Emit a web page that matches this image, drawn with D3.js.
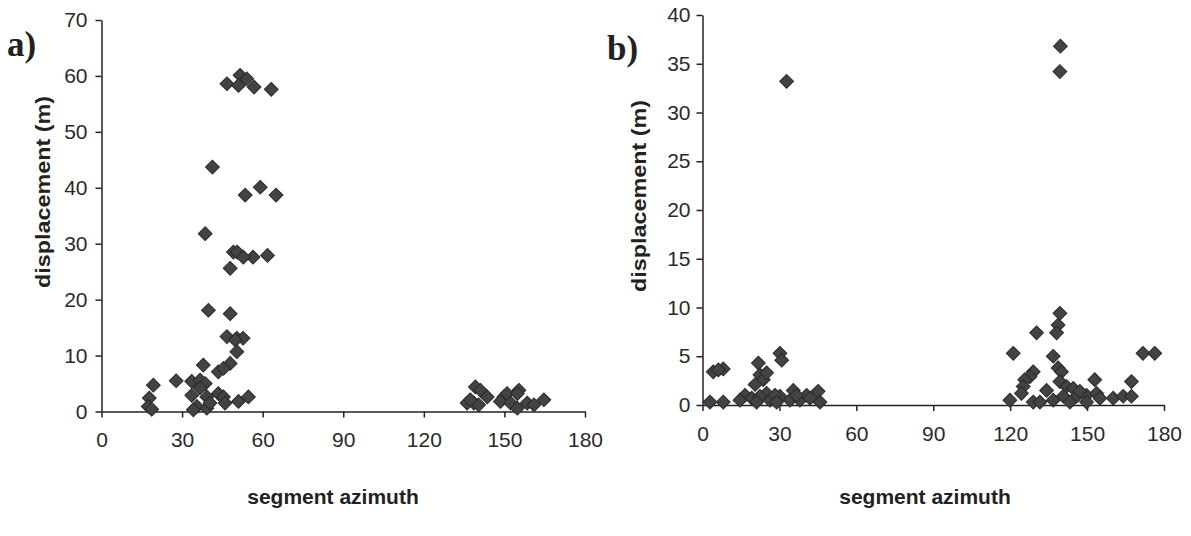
<!DOCTYPE html>
<html lang="en">
	<head>
		<meta charset="utf-8">
		<title>Displacement vs segment azimuth</title>
		<script type="text/javascript" src="https://cdn.jsdelivr.net/npm/d3@7"></script>
		<style type="text/css">
			body{
				margin: 0;
				background: #fff;
			}
			.tick text{
				font-family: "Liberation Sans", Arial, sans-serif;
				font-size: 21px;
				fill: #2a2a2a;
			}
			.axis path, .axis line{
				stroke: #222;
				stroke-width: 1.5;
			}
			.title{
				font-family: "Liberation Sans", Arial, sans-serif;
				font-weight: bold;
				font-size: 21px;
				fill: #222;
			}
			.panel{
				font-family: "Liberation Serif", "Times New Roman", serif;
				font-weight: bold;
				font-size: 35px;
				fill: #222;
			}
		</style>
	</head>
	<body>
		<script type="text/javascript">

			//Width and height
			var w = 1191;
			var h = 536;

			//Panel a) data: azimuth (deg), displacement (m)
			var azimuthA = [46.7, 51.6, 51.0, 54.1, 56.8, 63.2,
				41.3, 53.5, 59.1, 65.0,
				38.6, 49.1, 56.4, 61.8, 47.9, 50.5, 52.8,
				39.8, 47.9,
				46.7, 50.4, 52.7, 49.8, 50.4,
				37.9, 47.9, 43.5, 45.4,
				19.3, 27.8, 33.6, 36.7, 38.6, 36.7,
				17.8, 17.4, 18.7, 33.6, 39.2, 43.5, 45.4, 54.7, 51.0,
				35.5, 34.2, 39.2, 46.0, 40.4,
				139.2, 141.1, 143.6, 136.1, 138.6, 140.4, 137.3,
				149.8, 151.0, 155.4, 154.8, 148.5, 152.3, 154.8,
				158.5, 161.0, 164.7];
			var dispA = [58.6, 60.1, 58.3, 59.5, 58.0, 57.6,
				43.7, 38.7, 40.1, 38.7,
				31.8, 28.5, 27.6, 27.9, 25.6, 28.5, 27.6,
				18.1, 17.5,
				13.4, 13.1, 13.1, 12.8, 10.7,
				8.3, 8.6, 7.1, 7.7,
				4.7, 5.5, 5.4, 5.6, 5.0, 4.2,
				2.4, 0.9, 0.4, 2.9, 2.6, 3.2, 2.6, 2.6, 1.8,
				0.9, 0.3, 0.6, 1.5, 1.5,
				4.4, 3.8, 2.6, 1.5, 1.5, 1.2, 2.1,
				2.6, 3.2, 3.8, 3.2, 1.8, 1.5, 0.6,
				1.5, 1.2, 2.1];

			//Panel b) data
			var azimuthB = [32.8, 139.6, 139.4,
				2.9, 8.1, 4.2, 8.1, 6.2, 21.8, 30.2, 30.9,
				22.4, 23.7, 20.5, 25.0, 35.4, 45.1, 45.8,
				16.6, 14.6, 19.2, 25.0, 26.3, 30.2, 34.1, 38.0,
				40.6, 41.9, 22.4, 28.3, 36.7, 21.1, 28.9,
				139.4, 138.7, 138.1, 130.3, 121.2, 136.8, 138.7, 140.0,
				129.0, 127.7, 125.7, 125.1, 124.4, 134.2, 139.4, 142.0,
				144.6, 153.0, 167.3, 119.9, 129.0, 131.6, 136.8, 140.7,
				145.9, 149.8, 153.7, 155.0, 160.2, 164.1, 167.3, 149.8,
				143.3, 147.2, 171.8, 176.4];
			var dispB = [33.2, 36.8, 34.2,
				0.3, 0.3, 3.4, 3.7, 3.6, 4.3, 5.3, 4.6,
				3.1, 2.6, 2.1, 3.3, 1.5, 1.4, 0.3,
				1.0, 0.5, 0.7, 1.2, 0.5, 0.9, 0.5, 0.5,
				1.0, 0.7, 0.9, 1.0, 1.0, 0.3, 0.3,
				9.4, 8.2, 7.4, 7.4, 5.3, 5.0, 3.8, 3.4,
				3.4, 2.9, 2.6, 1.9, 1.2, 1.5, 2.4, 1.9,
				1.7, 2.6, 2.4, 0.5, 0.3, 0.3, 0.5, 0.9,
				0.9, 1.0, 1.2, 0.7, 0.7, 0.9, 0.9, 0.3,
				0.3, 1.4, 5.3, 5.3];

			var xTicks = [0, 30, 60, 90, 120, 150, 180];
			var yTicksA = [0, 10, 20, 30, 40, 50, 60, 70];
			var yTicksB = [0, 5, 10, 15, 20, 25, 30, 35, 40];

			//Create SVG element
			var svg = d3.select("body")
						.append("svg")
						.attr("width", w)
						.attr("height", h);

			var diamond = d3.symbol().type(d3.symbolSquare).size(95);

			function drawPanel(opt) {
				var x = d3.scaleLinear().domain([0, 180]).range([opt.x0, opt.x1]);
				var y = d3.scaleLinear().domain([0, opt.yMax]).range([opt.y0, opt.y1]);

				var g = svg.append("g");

				g.append("g")
				 .attr("class", "axis")
				 .attr("transform", "translate(0," + opt.y0 + ")")
				 .call(d3.axisBottom(x).tickValues(xTicks).tickSize(6).tickPadding(15).tickSizeOuter(0));

				g.append("g")
				 .attr("class", "axis")
				 .attr("transform", "translate(" + opt.x0 + ",0)")
				 .call(d3.axisLeft(y).tickValues(opt.yTicks).tickSize(6).tickPadding(opt.yPad).tickSizeOuter(0));

				g.selectAll("path.pt")
				 .data(opt.xs)
				 .enter()
				 .append("path")
				 .attr("class", "pt")
				 .attr("d", diamond)
				 .attr("transform", function(d, i) {
					 return "translate(" + x(d) + "," + y(opt.ys[i]) + ") rotate(45)";
				 })
				 .style("fill", "#434343")
				 .style("stroke", "#2a2a2a")
				 .style("stroke-width", 1);

				//Axis titles
				g.append("text")
				 .attr("class", "title")
				 .attr("transform", "translate(" + opt.yTitleX + "," + opt.yTitleY + ") rotate(-90)")
				 .attr("text-anchor", "middle")
				 .attr("textLength", 192)
				 .attr("lengthAdjust", "spacingAndGlyphs")
				 .text("displacement (m)");

				g.append("text")
				 .attr("class", "title")
				 .attr("x", opt.xTitleX)
				 .attr("y", 504)
				 .attr("text-anchor", "middle")
				 .text("segment azimuth");

				g.append("text")
				 .attr("class", "panel")
				 .attr("x", opt.labelX)
				 .attr("y", opt.labelY)
				 .text(opt.label);
			}

			drawPanel({x0: 101.5, x1: 585, y0: 411.5, y1: 20, yMax: 70, yTicks: yTicksA, yPad: 8,
				xs: azimuthA, ys: dispA, yTitleX: 50, yTitleY: 192, xTitleX: 333, labelX: 7, labelY: 56, label: "a)"});
			drawPanel({x0: 702.5, x1: 1164, y0: 405, y1: 15, yMax: 40, yTicks: yTicksB, yPad: 6,
				xs: azimuthB, ys: dispB, yTitleX: 646, yTitleY: 196, xTitleX: 925, labelX: 607, labelY: 60, label: "b)"});

		</script>
	</body>
</html>
